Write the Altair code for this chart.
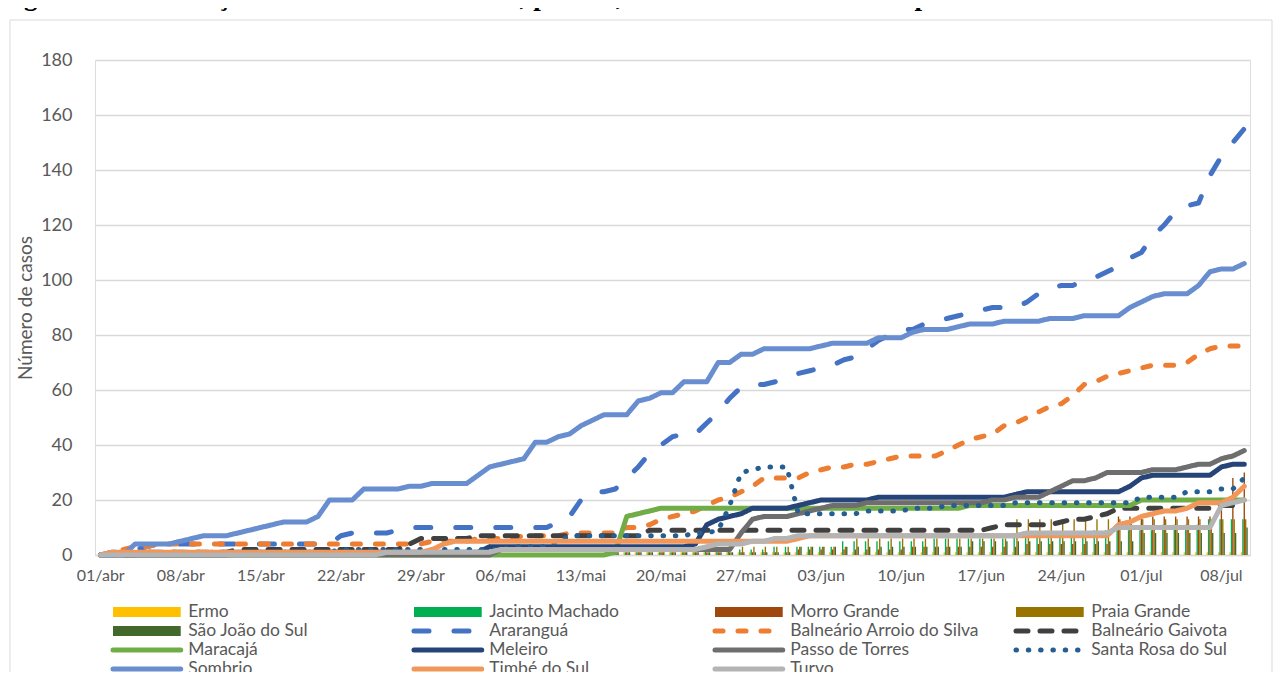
import altair as alt
import pandas as pd

# ---------------- categories ----------------
MONTHS = [("abr", 30), ("mai", 31), ("jun", 30), ("jul", 10)]
DAYS = [f"{d:02d}/{m}" for m, n in MONTHS for d in range(1, n + 1)]
TICK_LABELS = ["01/abr", "08/abr", "15/abr", "22/abr", "29/abr", "06/mai", "13/mai",
               "20/mai", "27/mai", "03/jun", "10/jun", "17/jun", "24/jun", "01/jul", "08/jul"]
Y_TICKS = [0, 20, 40, 60, 80, 100, 120, 140, 160, 180]

# ---------------- bar series (101 days) ----------------
ERMO = [0,0,0,0,0,0,0,0,0,0, 0,0,0,0,0,0,0,0,0,0, 0,0,0,0,0,0,0,0,0,0,
        0,0,0,0,0,0,0,0,0,0, 0,0,0,0,0,1,1,1,1,1, 1,1,1,1,1,1,1,1,1,1,
        1,1,1,1,1,1,1,1,1,1, 1,1,1,1,1,1,1,1,1,1, 1,1,1,1,1,1,1,1,1,1,
        1,1,1,1,1,1,1,1,1,1, 1]
JACINTO_MACHADO = [0,0,0,0,0,0,0,0,0,0, 0,0,0,0,0,0,0,0,0,0, 0,0,0,0,0,0,0,0,0,0,
        0,0,0,0,0,0,0,0,0,0, 0,0,0,0,0,1,1,1,1,1, 1,1,1,2,2,2,2,2,2,3,
        3,3,3,3,3,5,5,5,5,5, 5,5,5,6,6,6,6,6,6,6, 8,8,8,8,8,8,8,9,9,9,
        9,9,9,11,11,11,11,13,13,13, 13]
MORRO_GRANDE = [0,0,0,0,0,0,0,0,0,0, 0,0,0,0,0,0,0,0,0,0, 0,0,0,0,0,0,0,0,0,0,
        0,0,0,0,0,0,0,0,0,0, 0,0,0,0,0,1,1,1,1,1, 1,1,1,1,1,1,1,1,1,1,
        1,2,2,2,2,2,2,2,2,2, 2,3,3,3,3,3,3,3,3,3, 3,4,4,4,4,4,4,4,4,14,
        14,14,14,14,14,14,14,14,17,28, 30]
PRAIA_GRANDE = [0,0,0,0,0,0,0,0,0,0, 0,0,0,0,0,0,0,0,0,0, 0,0,0,0,0,0,0,0,0,0,
        0,0,0,0,0,0,0,0,0,0, 0,0,0,0,0,1,1,1,1,1, 1,1,1,1,1,1,3,3,3,3,
        3,3,3,3,3,3,6,6,6,6, 6,6,6,6,6,6,6,6,6,6, 13,13,13,13,13,13,13,13,13,13,
        13,13,13,13,13,13,13,13,13,13, 13]
SAO_JOAO_DO_SUL = [0,0,0,0,0,0,0,0,0,0, 0,0,0,0,0,0,0,0,0,0, 0,0,0,0,0,0,0,0,0,0,
        0,0,0,0,0,0,0,0,0,0, 0,0,0,0,0,1,1,1,1,1, 1,1,1,1,1,1,1,1,1,1,
        1,3,3,3,3,3,3,3,3,3, 3,3,3,3,3,3,5,5,5,5, 5,5,5,5,5,5,5,5,5,5,
        5,8,8,8,8,8,8,8,8,8, 10]

# ---------------- line series (101 days) ----------------
ARARANGUA = [0,1,1,2,3,4,4,4,4,4, 4,4,4,4,4,4,4,4,4,4, 4,7,8,8,8,8,9,10,10,10,
        10,10,10,10,10,10,10,10,10,10, 12,14,20,23,23,24,28,32,37,40, 43,44,44,48,52,57,61,62,62,63,
        64,66,67,68,69,71,72,75,78,80, 82,82,84,85,86,87,88,89,90,90, 90,92,95,97,98,98,100,101,103,105,
        108,110,116,120,125,127,128,138,145,150, 155]
BALNEARIO_ARROIO = [0,1,2,3,3,4,4,4,4,4, 4,4,4,4,4,4,4,4,4,4, 4,4,4,4,4,4,4,4,4,5,
        5,5,5,6,6,6,6,7,7,7, 7,8,8,8,8,8,10,10,11,13, 14,15,16,18,20,21,23,25,28,28,
        28,28,30,31,32,32,33,33,34,35, 36,36,36,36,38,40,42,43,44,47, 48,50,52,54,55,58,62,63,65,66,
        67,68,69,69,69,70,73,75,76,76, 76]
BALNEARIO_GAIVOTA = [0,0,0,0,1,1,1,1,1,1, 1,1,2,2,2,2,2,2,2,2, 2,2,2,2,2,2,2,4,6,6,
        6,6,6,7,7,7,7,7,7,7, 7,7,7,7,7,7,7,7,9,9, 9,9,9,9,9,9,9,9,9,9,
        9,9,9,9,9,9,9,9,9,9, 9,9,9,9,9,9,9,9,10,11, 11,11,11,11,12,13,13,14,15,17,
        17,17,17,17,17,17,17,17,18,18, 18]
MARACAJA = [0,0,0,0,0,0,0,0,0,0, 0,0,0,0,0,0,0,0,0,0, 0,0,0,0,0,0,0,0,0,0,
        0,0,0,0,0,0,0,0,0,0, 0,0,0,0,0,1,14,15,16,17, 17,17,17,17,17,17,17,17,17,17,
        17,17,17,17,17,17,17,17,17,17, 17,17,17,17,17,17,18,18,18,18, 18,18,18,18,18,18,18,18,18,18,
        18,20,20,20,20,20,20,20,20,20, 20]
MELEIRO = [0,0,0,0,0,0,0,0,0,0, 0,0,1,1,1,1,1,1,1,1, 1,1,1,1,1,1,1,1,1,1,
        1,1,1,1,3,3,3,3,3,3, 3,3,3,3,3,3,3,3,3,3, 3,3,4,11,13,14,15,17,17,17,
        17,18,19,20,20,20,20,20,21,21, 21,21,21,21,21,21,21,21,21,21, 22,23,23,23,23,23,23,23,23,23,
        25,28,29,29,29,29,29,29,32,33, 33]
PASSO_DE_TORRES = [0,0,0,0,0,0,0,0,0,0, 0,0,0,0,0,0,0,0,0,0, 0,0,0,0,0,0,0,0,0,0,
        0,0,0,0,0,2,2,2,2,2, 2,2,2,2,2,2,2,2,2,2, 2,2,2,2,2,2,8,13,14,14,
        14,15,16,17,18,18,18,19,19,19, 19,19,19,19,19,19,19,19,20,20, 21,21,21,23,25,27,27,28,30,30,
        30,30,31,31,31,32,33,33,35,36, 38]
SANTA_ROSA_DO_SUL = [0,0,0,0,1,1,1,1,1,1, 1,1,1,1,1,1,1,1,1,1, 1,2,2,2,2,2,2,2,2,2,
        2,2,2,2,2,2,3,3,3,3, 5,7,7,7,7,7,7,7,7,7, 7,7,8,8,9,18,30,31,32,32,
        32,15,15,15,15,15,15,16,16,16, 16,17,17,17,18,18,18,18,18,18, 19,19,19,19,19,19,19,19,19,19,
        19,21,21,21,21,23,23,23,24,24, 28]
SOMBRIO = [0,0,0,4,4,4,4,5,6,7, 7,7,8,9,10,11,12,12,12,14, 20,20,20,24,24,24,24,25,25,26,
        26,26,26,29,32,33,34,35,41,41, 43,44,47,49,51,51,51,56,57,59, 59,63,63,63,70,70,73,73,75,75,
        75,75,75,76,77,77,77,77,79,79, 79,81,82,82,82,83,84,84,84,85, 85,85,85,86,86,86,87,87,87,87,
        90,92,94,95,95,95,98,103,104,104, 106]
TIMBE_DO_SUL = [0,1,1,1,1,1,1,1,1,1, 1,1,1,1,1,1,1,1,1,1, 1,1,1,1,1,1,1,1,1,2,
        4,5,5,5,5,5,5,5,5,5, 5,5,5,5,5,5,5,5,5,5, 5,5,5,5,5,5,5,5,5,5,
        5,6,7,7,7,7,7,7,7,7, 7,7,7,7,7,7,7,7,7,7, 7,7,7,7,7,7,7,7,7,11,
        12,14,15,16,16,17,19,19,19,21, 25]
TURVO = [0,0,0,0,0,0,0,0,0,0, 0,0,0,0,0,0,0,0,0,0, 0,0,0,0,0,1,1,1,1,1,
        1,1,1,1,1,2,2,2,2,2, 2,2,2,2,2,2,2,2,2,2, 2,2,2,3,4,4,4,5,5,6,
        6,7,7,7,7,7,7,7,7,7, 7,7,7,7,7,7,7,7,7,7, 7,8,8,8,8,8,8,8,8,10,
        10,10,10,10,10,10,10,10,18,19, 20]

BAR_SERIES = {
    "Ermo": ERMO,
    "Jacinto Machado": JACINTO_MACHADO,
    "Morro Grande": MORRO_GRANDE,
    "Praia Grande": PRAIA_GRANDE,
    "São João do Sul": SAO_JOAO_DO_SUL,
}
LINE_SERIES = {
    "Araranguá": ARARANGUA,
    "Balneário Arroio do Silva": BALNEARIO_ARROIO,
    "Balneário Gaivota": BALNEARIO_GAIVOTA,
    "Maracajá": MARACAJA,
    "Meleiro": MELEIRO,
    "Passo de Torres": PASSO_DE_TORRES,
    "Santa Rosa do Sul": SANTA_ROSA_DO_SUL,
    "Sombrio": SOMBRIO,
    "Timbé do Sul": TIMBE_DO_SUL,
    "Turvo": TURVO,
}
BAR_NAMES = list(BAR_SERIES)
LINE_NAMES = list(LINE_SERIES)
ALL_NAMES = BAR_NAMES + LINE_NAMES

CAPTION = "Figura 1: Distribuição dos casos confirmados, por dia, de acordo com os municípios da AMESC"

# ---------------- styles ----------------
COLORS = ["#FFC000", "#00B050", "#9E480E", "#997300", "#43682B",
          "#4472C4", "#ED7D31", "#404040", "#70AD47", "#264478",
          "#6E6E6E", "#255E91", "#698ED0", "#F1975A", "#B4B4B4"]
DASHES = [[1, 0]] * 5 + [[15, 25], [8, 15], [12, 12], [1, 0], [1, 0], [1, 0], [0.5, 11.8], [1, 0], [1, 0], [1, 0]]
WIDTHS = [5] * 11 + [5.5] + [5] * 3
FONT = "Lato"
TXT = "#595959"
GRID = "#D9D9D9"

PLOT_W = 1155
PLOT_H = 495

# ---------------- data frames ----------------
bar_rows = []
for name, vals in BAR_SERIES.items():
    for d, v in zip(DAYS, vals):
        bar_rows.append({"day": d, "serie": name, "value": v})
bar_df = pd.DataFrame(bar_rows)

line_rows = []
for name, vals in LINE_SERIES.items():
    for i, (d, v) in enumerate(zip(DAYS, vals)):
        line_rows.append({"day": d, "serie": name, "value": v, "i": i})
line_df = pd.DataFrame(line_rows)

# legend: 4 columns, row-major, as in the original
leg_rows = []
for k, name in enumerate(ALL_NAMES):
    c, r = k % 4, k // 4
    leg_rows.append({"serie": name, "col": c, "row": r,
                     "s0": c, "s1": c + 0.225, "t0": c + 0.25,
                     "kind": "bar" if name in BAR_NAMES else "line"})
leg_df = pd.DataFrame(leg_rows)

color = alt.Color("serie:N", scale=alt.Scale(domain=ALL_NAMES, range=COLORS), legend=None)
dash = alt.StrokeDash("serie:N", scale=alt.Scale(domain=ALL_NAMES, range=DASHES), legend=None)
swidth = alt.StrokeWidth("serie:N", scale=alt.Scale(domain=ALL_NAMES, range=WIDTHS), legend=None)

x_scale = alt.Scale(type="band", domain=DAYS, paddingInner=0.4, paddingOuter=0.2)
x_axis = alt.Axis(values=TICK_LABELS, title=None, labelAngle=0, ticks=False,
                  domainColor=GRID, domainWidth=1.5, labelFont=FONT, labelFontSize=16,
                  labelColor=TXT, labelPadding=12, grid=False)
y_scale = alt.Scale(domain=[0, 180], nice=False, zero=True)
y_axis = alt.Axis(values=Y_TICKS, title="Número de casos", domain=False, ticks=False,
                  grid=True, gridColor=GRID, gridWidth=1.5, labelFont=FONT, labelFontSize=18,
                  labelColor=TXT, labelPadding=23, titleFont=FONT, titleFontSize=19,
                  titleColor=TXT, titleFontWeight="normal", titlePadding=5)

bars = alt.Chart(bar_df).mark_bar().encode(
    x=alt.X("day:O", scale=x_scale, axis=x_axis),
    xOffset=alt.XOffset("serie:N", scale=alt.Scale(domain=BAR_NAMES, paddingInner=0, paddingOuter=0)),
    y=alt.Y("value:Q", scale=y_scale, axis=y_axis),
    color=color,
)

lines = alt.Chart(line_df).mark_line(strokeCap="round", strokeJoin="round").encode(
    x=alt.X("day:O", scale=x_scale, axis=x_axis),
    y=alt.Y("value:Q", scale=y_scale, axis=y_axis),
    color=color,
    strokeDash=dash,
    strokeWidth=swidth,
    detail="serie:N",
    order="i:Q",
)

plot = alt.layer(bars, lines)

lx = alt.Scale(domain=[0, 4], range=[18, 18 + 4 * 301])
ly = alt.Scale(domain=[0, 3], range=[552, 609])

leg_bar = alt.Chart(leg_df).transform_filter("datum.kind == 'bar'").mark_rule(
    strokeWidth=10, strokeCap="butt").encode(
    x=alt.X("s0:Q", scale=lx, axis=None), x2="s1:Q",
    y=alt.Y("row:Q", scale=ly, axis=None), color=color)
leg_line = alt.Chart(leg_df).transform_filter("datum.kind == 'line'").mark_rule(
    strokeCap="round").encode(
    x=alt.X("s0:Q", scale=lx, axis=None), x2="s1:Q",
    y=alt.Y("row:Q", scale=ly, axis=None), color=color, strokeDash=dash, strokeWidth=swidth)
leg_text = alt.Chart(leg_df).mark_text(align="left", baseline="middle", font=FONT,
                                      fontSize=17.5, color=TXT).encode(
    x=alt.X("t0:Q", scale=lx, axis=None),
    y=alt.Y("row:Q", scale=ly, axis=None), text="serie:N")
legend = alt.layer(leg_bar, leg_line, leg_text)

frame_df = pd.DataFrame({"k": [0]})
frame = alt.Chart(frame_df).mark_rect(fill=None, stroke="#D9D9D9", strokeWidth=1).encode(
    x=alt.value(-85), x2=alt.value(1177), y=alt.value(-40), y2=alt.value(640))

caption = alt.Chart(frame_df).mark_text(align="left", baseline="alphabetic", font="Liberation Serif",
                                       fontSize=27, fontWeight="bold", color="#000000").encode(
    x=alt.value(-95), y=alt.value(-55), text=alt.value(CAPTION))

chart = alt.layer(frame, caption, plot, legend).resolve_scale(
    x="independent", y="independent"
).properties(
    width=PLOT_W, height=PLOT_H,
    autosize=alt.AutoSizeParams(type="none"),
    padding={"left": 87, "top": 52, "right": 26, "bottom": 117},
).configure_view(stroke=None).configure(background="white")

chart.save("out.html", embed_options={"renderer": "svg", "actions": False})
